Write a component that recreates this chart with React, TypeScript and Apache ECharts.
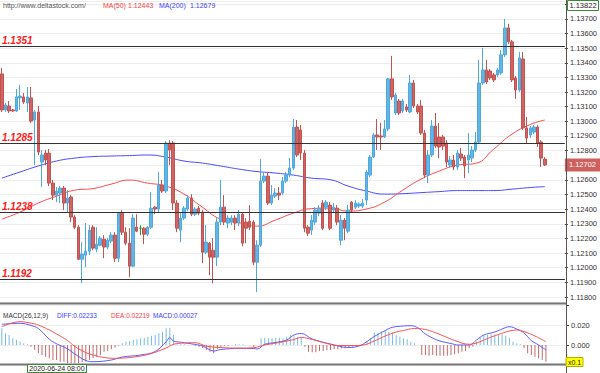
import React, { useEffect, useRef } from "react";
import * as echarts from "echarts";

const FONT = '"Liberation Sans", Arial, sans-serif';

// [open, close, low, high]
const candles: number[][] = [
  [1.13324,1.13078,1.13064,1.13365],[1.13078,1.13112,1.13064,1.13125],[1.13105,1.13071,1.13057,1.13139],[1.13078,1.13071,1.13064,1.13084],
  [1.13071,1.13167,1.13064,1.13221],[1.13160,1.13173,1.13078,1.13249],[1.13167,1.13132,1.13119,1.13194],[1.13125,1.13167,1.13064,1.13235],
  [1.13160,1.13002,1.12989,1.13235],[1.13009,1.13064,1.12701,1.13078],[1.13064,1.12790,1.12770,1.13105],[1.12722,1.12770,1.12551,1.12804],
  [1.12783,1.12736,1.12701,1.12804],[1.12783,1.12578,1.12558,1.12811],[1.12578,1.12496,1.12462,1.12599],[1.12496,1.12524,1.12448,1.12551],
  [1.12510,1.12544,1.12442,1.12558],[1.12544,1.12442,1.12394,1.12558],[1.12442,1.12476,1.12380,1.12530],[1.12483,1.12346,1.12312,1.12496],
  [1.12346,1.12277,1.12264,1.12359],[1.12277,1.12058,1.12052,1.12291],[1.12058,1.12093,1.11894,1.12175],[1.12086,1.12113,1.12004,1.12305],
  [1.12113,1.12257,1.12086,1.12291],[1.12277,1.12134,1.12120,1.12291],[1.12127,1.12161,1.12106,1.12277],[1.12154,1.12202,1.12147,1.12216],
  [1.12195,1.12141,1.12065,1.12223],[1.12141,1.12188,1.12127,1.12202],[1.12182,1.12223,1.12168,1.12243],[1.12223,1.12065,1.12038,1.12243],
  [1.12065,1.12373,1.12038,1.12380],[1.12373,1.12243,1.12223,1.12394],[1.12243,1.12168,1.12154,1.12277],[1.12168,1.12011,1.11935,1.12270],
  [1.12011,1.12339,1.12004,1.12366],[1.12277,1.12250,1.12243,1.12366],[1.12270,1.12270,1.12223,1.12291],[1.12270,1.12229,1.12161,1.12277],
  [1.12229,1.12277,1.12216,1.12284],[1.12277,1.12407,1.12264,1.12517],[1.12414,1.12401,1.12366,1.12421],[1.12401,1.12565,1.12380,1.12654],
  [1.12565,1.12524,1.12510,1.12599],[1.12524,1.12852,1.12510,1.12866],[1.12852,1.12804,1.12701,1.12872],[1.12852,1.12442,1.12394,1.12866],
  [1.12442,1.12270,1.12243,1.12462],[1.12257,1.12339,1.12175,1.12380],[1.12339,1.12407,1.12325,1.12421],[1.12401,1.12476,1.12387,1.12496],
  [1.12476,1.12366,1.12353,1.12503],[1.12366,1.12401,1.12353,1.12414],[1.12407,1.12373,1.12359,1.12421],[1.12373,1.12106,1.12031,1.12394],
  [1.12106,1.12175,1.12093,1.12291],[1.12168,1.12072,1.11949,1.12175],[1.12120,1.12072,1.11894,1.12202],[1.12072,1.12312,1.12011,1.12339],
  [1.12312,1.12414,1.12291,1.12599],[1.12414,1.12312,1.12291,1.12496],[1.12305,1.12339,1.12270,1.12359],[1.12312,1.12339,1.12291,1.12359],
  [1.12339,1.12305,1.12257,1.12359],[1.12305,1.12366,1.12284,1.12394],[1.12366,1.12168,1.12147,1.12380],[1.12312,1.12270,1.12168,1.12339],
  [1.12318,1.12277,1.12257,1.12428],[1.12312,1.12038,1.12017,1.12325],[1.12038,1.12154,1.11833,1.12188],[1.12154,1.12592,1.12141,1.12742],
  [1.12592,1.12626,1.12578,1.12654],[1.12626,1.12442,1.12428,1.12647],[1.12442,1.12496,1.12428,1.12565],[1.12489,1.12510,1.12476,1.12544],
  [1.12510,1.12496,1.12462,1.12551],[1.12510,1.12592,1.12496,1.12619],[1.12592,1.12633,1.12578,1.12654],[1.12633,1.12681,1.12619,1.12749],
  [1.12681,1.12961,1.12667,1.13016],[1.12961,1.12770,1.12756,1.13009],[1.12941,1.12783,1.12736,1.12975],[1.12783,1.12270,1.12243,1.12804],
  [1.12277,1.12236,1.12216,1.12291],[1.12257,1.12325,1.12223,1.12359],[1.12312,1.12394,1.12291,1.12414],[1.12373,1.12407,1.12353,1.12428],
  [1.12442,1.12270,1.12257,1.12462],[1.12414,1.12448,1.12394,1.12462],[1.12428,1.12270,1.12257,1.12448],[1.12394,1.12414,1.12380,1.12442],
  [1.12407,1.12312,1.12291,1.12428],[1.12188,1.12325,1.12154,1.12359],[1.12325,1.12270,1.12188,1.12339],[1.12250,1.12394,1.12236,1.12428],
  [1.12448,1.12394,1.12380,1.12455],[1.12414,1.12442,1.12401,1.12462],[1.12421,1.12435,1.12407,1.12448],[1.12421,1.12442,1.12407,1.12469],
  [1.12462,1.12654,1.12428,1.12667],[1.12633,1.12756,1.12619,1.12770],[1.12756,1.12907,1.12749,1.12920],[1.12907,1.12893,1.12804,1.13016],
  [1.12900,1.12893,1.12804,1.12989],[1.12893,1.12948,1.12886,1.13009],[1.12948,1.13290,1.12934,1.13296],[1.13290,1.13167,1.13146,1.13447],
  [1.13057,1.13180,1.13043,1.13194],[1.13139,1.13057,1.13043,1.13153],[1.13071,1.13139,1.13057,1.13153],[1.13098,1.13078,1.13064,1.13119],
  [1.13064,1.13262,1.13057,1.13317],[1.13262,1.13105,1.13091,1.13283],[1.13105,1.13064,1.13050,1.13119],[1.13105,1.12920,1.12907,1.13146],
  [1.12920,1.12633,1.12612,1.12941],[1.12633,1.12770,1.12578,1.12804],[1.12770,1.12968,1.12756,1.13009],[1.12968,1.12831,1.12818,1.13057],
  [1.12893,1.12825,1.12749,1.12989],[1.12893,1.12831,1.12804,1.12907],[1.12852,1.12722,1.12688,1.12872],[1.12701,1.12736,1.12681,1.12763],
  [1.12736,1.12688,1.12667,1.12770],[1.12688,1.12783,1.12667,1.12804],[1.12777,1.12749,1.12729,1.12818],[1.12756,1.12695,1.12612,1.12770],
  [1.12736,1.12770,1.12647,1.12920],[1.12749,1.12804,1.12722,1.12831],[1.12804,1.12859,1.12790,1.12927],[1.12859,1.13262,1.12852,1.13420],
  [1.13262,1.13351,1.13249,1.13502],[1.13351,1.13269,1.13255,1.13420],[1.13344,1.13296,1.13283,1.13358],[1.13317,1.13283,1.13269,1.13331],
  [1.13317,1.13351,1.13303,1.13365],[1.13331,1.13454,1.13317,1.13488],[1.13454,1.13638,1.13440,1.13700],[1.13638,1.13543,1.13529,1.13666],
  [1.13543,1.13283,1.13269,1.13556],[1.13296,1.13214,1.13153,1.13310],[1.13214,1.13433,1.13201,1.13474],[1.13426,1.12955,1.12941,1.13474],
  [1.12955,1.12886,1.12852,1.13030],[1.12907,1.12955,1.12886,1.12968],[1.12927,1.12961,1.12913,1.12975],[1.12961,1.12852,1.12825,1.12975],
  [1.12859,1.12749,1.12688,1.12872],[1.12742,1.12702,1.12695,1.12756],
];

const slotCount = 155;
const categories = Array.from({ length: slotCount }, (_, i) => String(i));

const levels = [1.1351, 1.1285, 1.1238, 1.1192];
const lastPrice = 1.12702;
const axisTop = 1.13822;
const axisBottom = 1.11766;

const maIdx = [0,5,10,15,20,25,30,35,40,45,50,55,60,65,70,75,80,85,90,95,100,105,110,115,120,125,130,135,140,145,149];
const ma50Vals = [1.12332,1.12380,1.12442,1.12489,1.12530,1.12541,1.12571,1.12599,1.12578,1.12558,1.12503,1.12414,1.12332,1.12308,1.12284,1.12325,1.12373,1.12404,1.12407,1.12387,1.12401,1.12448,1.12530,1.12605,1.12660,1.12701,1.12713,1.12811,1.12913,1.12978,1.13009];
const ma200Vals = [1.12612,1.12654,1.12695,1.12729,1.12749,1.12759,1.12763,1.12766,1.12770,1.12756,1.12729,1.12715,1.12695,1.12674,1.12657,1.12647,1.12633,1.12612,1.12602,1.12558,1.12524,1.12503,1.12506,1.12513,1.12520,1.12527,1.12527,1.12527,1.12537,1.12548,1.12554];

const macdHist = [
  0.0167,0.0117,0.0100,0.0067,0.0050,0.0033,0.0017,0.0007,-0.0017,-0.0050,
  -0.0083,-0.0100,-0.0117,-0.0133,-0.0150,-0.0150,-0.0167,-0.0167,-0.0183,-0.0183,
  -0.0183,-0.0183,-0.0167,-0.0167,-0.0150,-0.0133,-0.0117,-0.0100,-0.0067,-0.0060,
  -0.0043,-0.0027,-0.0007,0.0017,0.0033,0.0040,0.0050,0.0057,0.0067,0.0073,
  0.0083,0.0093,0.0100,0.0117,0.0133,0.0167,0.0173,0.0100,0.0007,0.0007,
  0.0007,0,0,-0.0007,-0.0017,-0.0033,-0.0050,-0.0067,-0.0083,-0.0040,
  -0.0017,-0.0007,-0.0007,0,0.0007,0.0007,0.0007,0,0,-0.0017,
  0,0.0067,0.0073,0.0067,0.0067,0.0073,0.0073,0.0067,0.0083,0.0100,
  0.0083,0.0083,0.0083,-0.0017,-0.0067,-0.0073,-0.0073,-0.0060,-0.0060,-0.0050,
  -0.0050,-0.0043,-0.0043,-0.0033,-0.0033,-0.0027,-0.0017,-0.0017,-0.0010,0.0007,
  0.0033,0.0070,0.0127,0.0117,0.0133,0.0140,0.0133,0.0127,0.0100,0.0083,
  0.0067,0.0057,0.0033,0.0017,0.0003,-0.0100,-0.0100,-0.0107,-0.0100,-0.0107,
  -0.0107,-0.0107,-0.0107,-0.0100,-0.0093,-0.0083,-0.0067,-0.0060,-0.0033,-0.0017,
  0.0033,0.0073,0.0093,0.0100,0.0107,0.0107,0.0100,0.0107,0.0093,0.0073,
  0.0033,0.0017,0.0007,-0.0033,-0.0083,-0.0100,-0.0117,-0.0133,-0.0150,-0.0167,
];

const diffIdx = [0,5,8,10,13,15,18,20,23,25,30,33,38,42,45,46,47,49,53,55,58,60,65,69,70,72,75,78,80,82,85,90,95,98,100,102,105,107,110,112,114,116,118,120,123,125,128,130,132,135,138,139,141,143,145,147,149];
const diffVals = [0.0207,0.0217,0.0195,0.0165,0.0058,0.0012,-0.0038,-0.009,-0.0155,-0.0167,-0.015,-0.012,-0.010,-0.0065,0.0033,0.0073,0.004,0.0028,0.0005,-0.001,-0.006,-0.0045,-0.0033,-0.0035,-0.004,0.0007,0.0025,0.005,0.010,0.0115,0.006,0.001,-0.0025,-0.0008,0.0035,0.0085,0.0145,0.0177,0.019,0.0193,0.017,0.011,0.007,0.004,0.0015,0,0,0.005,0.010,0.013,0.0175,0.0183,0.016,0.012,0.0045,0,-0.005];
const deaIdx = [0,5,8,10,13,15,18,20,23,25,28,31,35,40,45,47,50,53,56,60,65,69,72,76,80,82,85,88,92,96,99,102,105,108,110,113,116,118,121,124,128,130,133,136,139,141,143,146,149];
const deaVals = [0.0183,0.0233,0.0218,0.020,0.015,0.011,0.0045,-0.0015,-0.0075,-0.010,-0.0125,-0.0133,-0.0125,-0.0095,-0.003,0.0007,0.002,0.0023,-0.0012,-0.0025,-0.0032,-0.0027,0,0.0025,0.0055,0.0075,0.0055,0.0025,-0.0005,-0.0005,0,0.004,0.009,0.013,0.0145,0.0165,0.0155,0.0133,0.009,0.0045,0.0007,0.002,0.0065,0.0105,0.014,0.015,0.0135,0.009,0.0033];

const UP_FILL = "#62b6e6";
const UP_BORDER = "#4fa9de";
const DOWN_FILL = "#d06462";
const DOWN_BORDER = "#c25350";

function txt(x: number, y: number, text: string, fill: string, size = 7, extra: any = {}) {
  return {
    type: "text",
    x,
    y,
    z: 100,
    style: { text, fill, fontSize: size, fontFamily: FONT, verticalAlign: "middle", align: "left", ...extra },
  };
}

export default function App() {
  const ref = useRef<HTMLDivElement>(null);
  useEffect(() => {
    if (!ref.current) return;
    const chart = echarts.init(ref.current, undefined, { renderer: "svg" });
    const option: any = {
      animation: false,
      backgroundColor: "#ffffff",
      textStyle: { fontFamily: FONT },
      grid: [
        { left: 0, right: 34, top: 1, height: 301 },
        { left: 0, right: 34, top: 305, height: 60 },
      ],
      xAxis: [
        { type: "category", gridIndex: 0, data: categories, show: false, boundaryGap: true },
        { type: "category", gridIndex: 1, data: categories, show: false, boundaryGap: true },
      ],
      yAxis: [
        {
          type: "value",
          gridIndex: 0,
          position: "right",
          min: axisBottom,
          max: axisTop,
          splitNumber: 20,
          minInterval: 0.001,
          maxInterval: 0.001,
          axisLine: { show: false },
          axisTick: { show: true, length: 3, lineStyle: { color: "#444" } },
          axisLabel: {
            showMinLabel: false,
            showMaxLabel: false,
            margin: 5,
            fontSize: 7.5,
            color: "#333",
            fontFamily: FONT,
            formatter: (v: number) => (Math.abs(v - 1.138) < 1e-7 ? "" : v.toFixed(5)),
          },
          splitLine: { show: true, lineStyle: { color: "#ededed", width: 1 } },
        },
        {
          type: "value",
          gridIndex: 1,
          position: "right",
          min: -0.02,
          max: 0.04,
          interval: 0.02,
          axisLine: { show: false },
          axisTick: { show: true, length: 3, lineStyle: { color: "#444" } },
          axisLabel: {
            margin: 5,
            fontSize: 7.5,
            color: "#333",
            fontFamily: FONT,
            formatter: (v: number) =>
              Math.abs(v - 0.02) < 1e-9 ? "0.020" : Math.abs(v) < 1e-9 ? "0.000" : "",
          },
          splitLine: { show: true, lineStyle: { color: "#ededed", width: 1 } },
        },
      ],
      series: [
        {
          name: "MA200",
          type: "line",
          xAxisIndex: 0,
          yAxisIndex: 0,
          data: maIdx.map((i, k) => [i, ma200Vals[k]]),
          smooth: true,
          symbol: "none",
          lineStyle: { color: "#4848ff", width: 1 },
          z: 1,
        },
        {
          name: "MA50",
          type: "line",
          xAxisIndex: 0,
          yAxisIndex: 0,
          data: maIdx.map((i, k) => [i, ma50Vals[k]]),
          smooth: true,
          symbol: "none",
          lineStyle: { color: "#ff4a4a", width: 1 },
          z: 1,
        },
        {
          name: "EURUSD",
          type: "candlestick",
          xAxisIndex: 0,
          yAxisIndex: 0,
          data: candles,
          barWidth: 3,
          z: 3,
          itemStyle: {
            color: UP_FILL,
            color0: DOWN_FILL,
            borderColor: UP_BORDER,
            borderColor0: DOWN_BORDER,
            borderColorDoji: "#2f9a2f",
            borderWidth: 1,
          },
          markLine: {
            silent: true,
            symbol: "none",
            precision: 5,
            animation: false,
            lineStyle: { color: "#333", width: 1, type: "solid" },
            label: {
              position: "insideStartTop",
              distance: [2, 1],
              color: "#ff1a1a",
              fontStyle: "italic",
              fontWeight: "bold",
              fontSize: 10,
              fontFamily: FONT,
              formatter: (p: any) => Number(p.value).toFixed(4),
            },
            data: levels.map((v) => ({ yAxis: v })),
          },
        },
        {
          name: "Last",
          type: "line",
          xAxisIndex: 0,
          yAxisIndex: 0,
          data: [],
          markLine: {
            silent: true,
            symbol: "none",
            precision: 5,
            animation: false,
            lineStyle: { color: "rgba(0,0,0,0)", width: 1 },
            label: {
              show: true,
              position: "end",
              distance: 0,
              color: "#ffffff",
              fontSize: 7.5,
              fontFamily: FONT,
              backgroundColor: "#d0605c",
              padding: [3, 4, 2, 4],
              formatter: (p: any) => Number(p.value).toFixed(5),
            },
            data: [{ yAxis: lastPrice }],
          },
          z: 10,
        },
        {
          name: "MACD",
          type: "bar",
          xAxisIndex: 1,
          yAxisIndex: 1,
          barWidth: 1,
          data: macdHist.map((v) => ({
            value: v,
            itemStyle: { color: v >= 0 ? "#78bce2" : "#c46a6a" },
          })),
        },
        {
          name: "DIFF",
          type: "line",
          xAxisIndex: 1,
          yAxisIndex: 1,
          data: diffIdx.map((i, k) => [i, diffVals[k]]),
          smooth: 0.4,
          symbol: "none",
          lineStyle: { color: "#5a5aff", width: 1 },
        },
        {
          name: "DEA",
          type: "line",
          xAxisIndex: 1,
          yAxisIndex: 1,
          data: deaIdx.map((i, k) => [i, deaVals[k]]),
          smooth: 0.4,
          symbol: "none",
          lineStyle: { color: "#ff5252", width: 1 },
        },
      ],
      graphic: [
        { type: "line", z: 50, shape: { x1: 566.5, y1: 0, x2: 566.5, y2: 373 }, style: { stroke: "#555", lineWidth: 1 } },
        { type: "line", z: 50, shape: { x1: 0, y1: 303.5, x2: 566, y2: 303.5 }, style: { stroke: "#777", lineWidth: 2 } },
        { type: "line", z: 50, shape: { x1: 0, y1: 364.5, x2: 566, y2: 364.5 }, style: { stroke: "#777", lineWidth: 2 } },
        txt(3, 5, "http://www.deltastock.com/", "#555", 7),
        txt(103, 5, "MA(50)", "#ff3b3b", 7),
        txt(128, 5, "1.12443", "#ff3b3b", 7),
        txt(159, 5, "MA(200)", "#3b3bff", 7),
        txt(190, 5, "1.12679", "#3b3bff", 7),
        txt(3, 315, "MACD(26,12,9)", "#333", 6.5),
        txt(57, 315, "DIFF:0.02233", "#3b3bff", 6.5),
        txt(111, 315, "DEA:0.02219", "#ff3b3b", 6.5),
        txt(153, 315, "MACD:0.00027", "#3b3bff", 6.5),
        {
          type: "rect",
          z: 60,
          shape: { x: 567.5, y: 0.5, width: 31, height: 10 },
          style: { fill: "#ffffff", stroke: "#3a8a3a", lineWidth: 1 },
        },
        { ...txt(583, 5.5, "1.13822", "#222", 7.5, { align: "center" }), z: 61 },
        {
          type: "rect",
          z: 60,
          shape: { x: 566, y: 357.5, width: 17, height: 9 },
          style: { fill: "#ffff00", stroke: "#b0b000", lineWidth: 1 },
        },
        { ...txt(574.5, 362, "x0.1", "#222", 7, { align: "center" }), z: 61 },
        {
          type: "rect",
          z: 60,
          shape: { x: 27.5, y: 364.5, width: 59, height: 8 },
          style: { fill: "#ffffff", stroke: "#3a8a3a", lineWidth: 1 },
        },
        { ...txt(57, 368.5, "2020-06-24 08:00", "#222", 7, { align: "center" }), z: 61 },
      ],
    };
    chart.setOption(option);
    return () => chart.dispose();
  }, []);
  return (
    <div
      ref={ref}
      style={{ position: "fixed", left: 0, top: 0, width: 600, height: 373, background: "#fff" }}
    />
  );
}
